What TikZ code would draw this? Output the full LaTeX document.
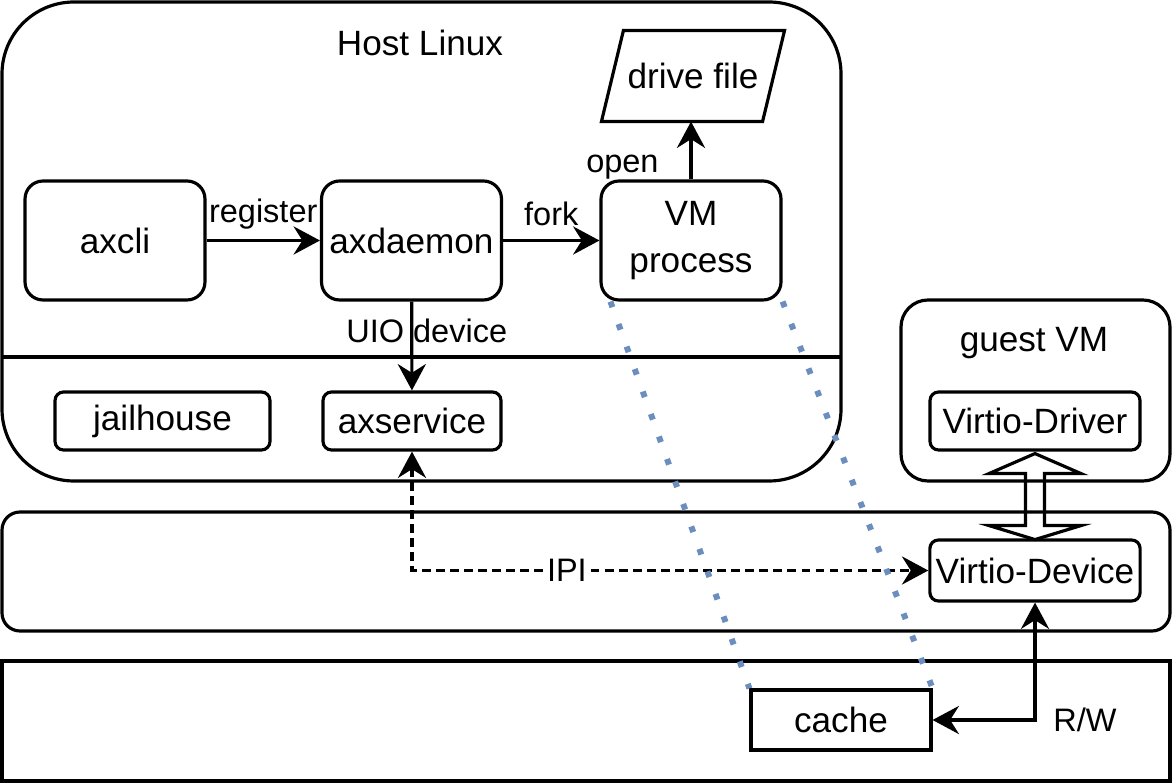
\documentclass[tikz,border=0pt]{standalone}
\usepackage{fontspec}
\setmainfont{Liberation Sans}
\usetikzlibrary{arrows.meta, calc}
\definecolor{dotblue}{HTML}{6C8EBF}

\begin{document}
\begin{tikzpicture}[x=0.02cm, y=-0.02cm, line width=1.8pt,
    arr/.tip={Stealth[length=15pt,width=16pt,inset=5pt]},
    flow/.style={-arr},
    both/.style={arr-arr},
    big/.style={font=\fontsize{20}{26.5}\selectfont},
    lbl/.style={font=\fontsize{18.5}{22}\selectfont},
    proc/.style={draw, big, rounded corners=0.36cm, minimum width=3.6cm, minimum height=2.38cm, align=center},
    small/.style={draw, big, rounded corners=0.17cm, minimum height=1.16cm},
    link/.style={draw=dotblue, line width=3.4pt, dash pattern=on 3.4pt off 10.2pt}]
    \useasboundingbox (0,0) rectangle (1173,783);
    % Draw the layers
    \draw[rounded corners=1.44cm] (2,2) rectangle (841,481);
    \draw (2,357) -- (841,357);
    \draw[rounded corners=0.54cm] (901,300) rectangle (1170,481);
    \draw[rounded corners=0.36cm] (2,512) rectangle (1170,631);
    \draw (2,661) rectangle (1170,781);
    \node[big] (host) at (420,43) {Host Linux};
    \node[big] (guest) at (1034,343) {guest VM};

    % Draw the boxes
    \node[proc] (axcli) at (115,240.5) {axcli};
    \node[proc] (axdaemon) at (411.5,240.5) {axdaemon};
    \node[proc] (vmproc) at (691,240.5) {VM\\process};
    \node[big, minimum width=3.6cm, minimum height=1.76cm] (drive) at (693,76) {drive file};
    \draw (drive.south west) -- ($(drive.north west)+(22,0)$) -- (drive.north east)
        -- ($(drive.south east)+(-22,0)$) -- cycle;
    \node[small, minimum width=4.3cm] (jailhouse) at (162.5,421) {jailhouse};
    \node[small, minimum width=3.56cm] (axservice) at (412,421) {axservice};
    \node[small, minimum width=4.2cm] (drv) at (1035,421) {Virtio-Driver};
    \node[small, minimum width=4.2cm, minimum height=1.22cm] (dev) at (1035,570.5) {Virtio-Device};
    \node[draw, big, minimum width=3.6cm, minimum height=1.2cm] (cache) at (841,720) {cache};

    % Draw the connections
    \draw[flow] (axcli) -- node[lbl, above=2pt] {register} (axdaemon);
    \draw[flow] (axdaemon) -- node[lbl, above=4pt] {fork} (vmproc);
    \draw[flow] (vmproc.north) -- node[lbl, pos=0.22, left=0.5cm] {open} (vmproc.north |- drive.south);
    \draw[flow] (axdaemon) -- node[lbl, pos=0.33, xshift=0.3cm] {UIO device} (axservice);
    \draw[both, dash pattern=on 5pt off 3pt] (axservice) |- node[lbl, pos=0.65, fill=white, inner sep=1pt] {IPI} (dev);
    \draw[both] (dev) |- node[lbl, pos=0.5, right=0.22cm] {R/W} (cache);
    \draw ($(drv.south)+(0,2)$) -- ++(46,20) -- ++(-36.5,0) -- ++(0,52) -- ++(36.5,0) -- ++(-46,14)
        -- ++(-46,-14) -- ++(36.5,0) -- ++(0,-52) -- ++(-36.5,0) -- cycle;

    % Draw the mapping to the cache
    \draw[link] ($(vmproc.south west)+(11,0)$) -- (cache.north west);
    \draw[link] (vmproc.south east) -- (cache.north east);
  \end{tikzpicture}
\end{document}
